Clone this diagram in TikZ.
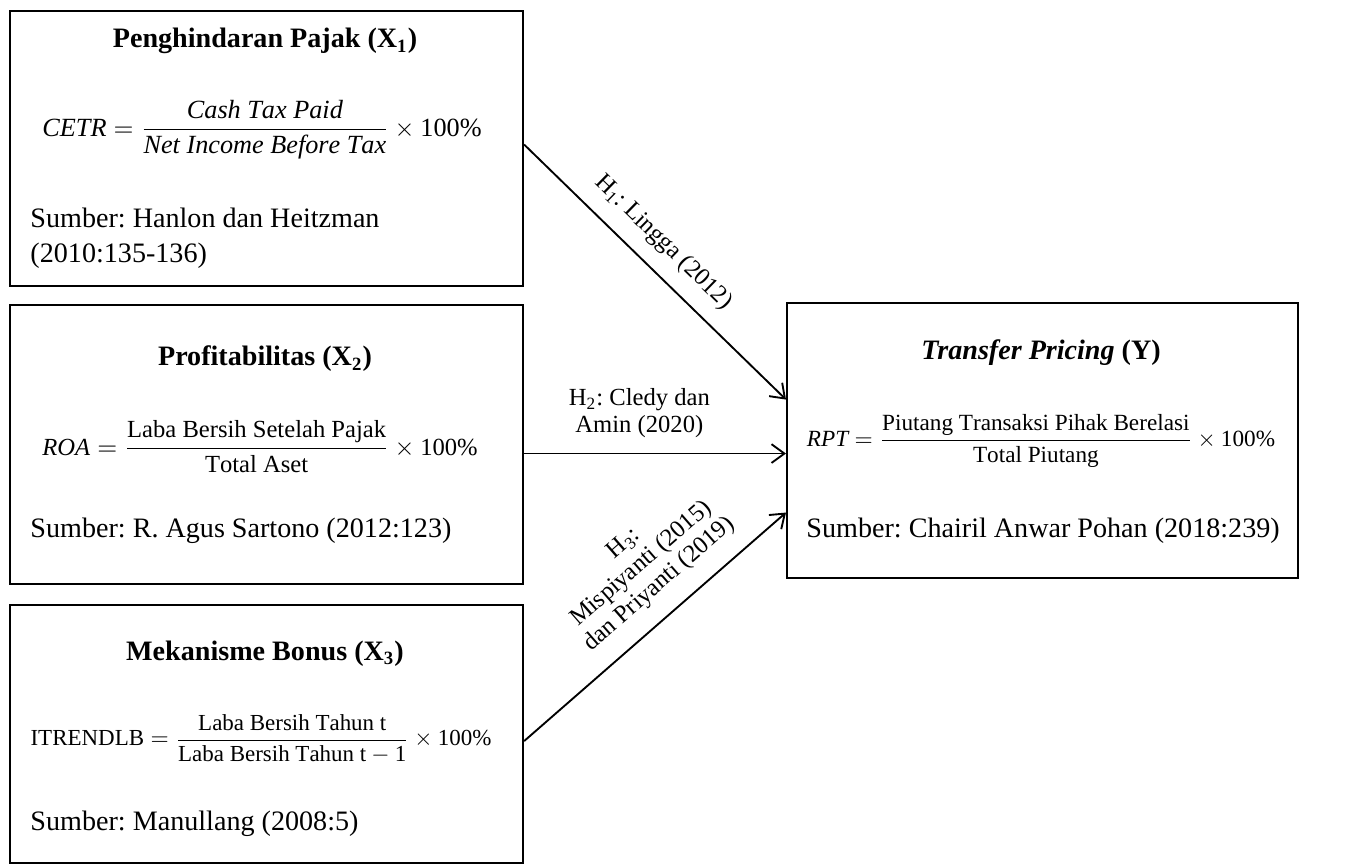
\documentclass[tikz,border=0pt]{standalone}
\usepackage{amsmath}
\usepackage{fontspec}
\setmainfont{Liberation Serif}
\usetikzlibrary{arrows.meta,calc}
\frenchspacing

\begin{document}
\begin{tikzpicture}[
  x=0.015cm,y=-0.015cm,
  font=\fontsize{12}{15}\selectfont,
  varbox/.style={draw=black,line width=0.9pt,anchor=north west,inner sep=0pt},
  title/.style={anchor=base,font=\bfseries\fontsize{12}{15}\selectfont},
  formula/.style={anchor=center,inner sep=0pt,font=\fontsize{#1}{12}\selectfont},
  formula/.default=10,
  source/.style={anchor=base west,inner sep=0pt},
  hyp/.style={-{Straight Barb[length=5.5pt,width=8pt]},line width=0.8pt},
  hlabel/.style={align=center,font=\fontsize{10.5}{11.5}\selectfont}
]
\path[use as bounding box] (0,0) rectangle (1356,864);
\node[varbox,minimum width=7.695cm,minimum height=4.125cm] (x1) at (9,10) {};
\node[varbox,minimum width=7.695cm,minimum height=4.185cm] (x2) at (9,304) {};
\node[varbox,minimum width=7.695cm,minimum height=3.87cm] (x3) at (9,604) {};
\node[varbox,minimum width=7.665cm,minimum height=4.125cm] (y) at (786,302) {};
\node[title] (x1title) at (265,48) {Penghindaran Pajak (X\textsubscript{1})};
\node[formula=11.2] (x1eq) at (262,130) {$\mathit{CETR} = \dfrac{\mathit{Cash\ Tax\ Paid}}{\mathit{Net\ Income\ Before\ Tax}} \times \mathrm{100\%}$};
\node[source] (x1src) at (30,228) {Sumber: Hanlon dan Heitzman};
\node[source] (x1src2) at (30,263) {(2010:135-136)};
\node[title] (x2title) at (265,366) {Profitabilitas (X\textsubscript{2})};
\node[formula=10.5] (x2eq) at (260,447) {$\mathit{ROA} = \dfrac{\mathrm{Laba\ Bersih\ Setelah\ Pajak}}{\mathrm{Total\ Aset}} \times \mathrm{100\%}$};
\node[source] (x2src) at (30,538) {Sumber: R. Agus Sartono (2012:123)};
\node[title] (x3title) at (265,660) {Mekanisme Bonus (X\textsubscript{3})};
\node[formula=9.8] (x3eq) at (261,739) {$\mathrm{ITRENDLB} = \dfrac{\mathrm{Laba\ Bersih\ Tahun\ t}}{\mathrm{Laba\ Bersih\ Tahun\ t} - \mathrm{1}} \times \mathrm{100\%}$};
\node[source] (x3src) at (30,830) {Sumber: Manullang (2008:5)};
\node[title] (ytitle) at (1041,360) {\textit{Transfer Pricing} (Y)};
\node[formula=9.9] (yeq) at (1041,441) {$\mathit{RPT} = \dfrac{\mathrm{Piutang\ Transaksi\ Pihak\ Berelasi}}{\mathrm{Total\ Piutang}} \times \mathrm{100\%}$};
\node[source] (ysrc) at (806,538) {Sumber: Chairil Anwar Pohan (2018:239)};
\draw[hyp] ($(x1.east)+(0,-4)$) -- node[hlabel,sloped,above=3pt,pos=0.46] {H\textsubscript{1}: Lingga (2012)} ($(y.west)+(0,-41)$);
\draw[hyp] ($(x2.east)+(0,9)$) -- node[hlabel,above=3pt,pos=0.44] {H\textsubscript{2}: Cledy dan\\Amin (2020)} ($(y.west)+(0,13)$);
\draw[hyp] ($(x3.east)+(0,7)$) -- node[hlabel,sloped,above=4pt,pos=0.59] {H\textsubscript{3}:\\Mispiyanti (2015)\\dan Priyanti (2019)} ($(y.west)+(0,72)$);
\end{tikzpicture}
\end{document}
